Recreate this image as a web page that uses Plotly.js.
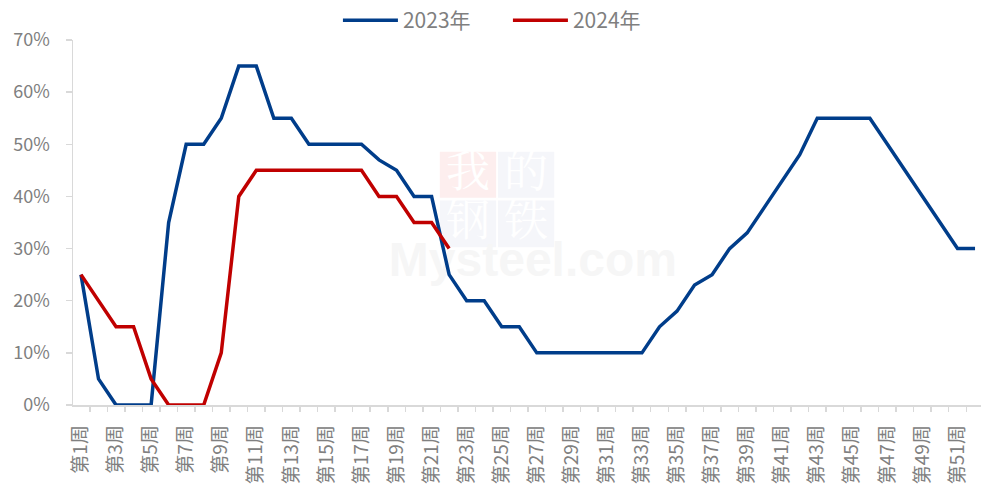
<!DOCTYPE html>
<html>
<head>
<meta charset="utf-8">
<script src="https://cdn.plot.ly/plotly-3.0.1.min.js"></script>
<style>html,body{margin:0;padding:0;background:#fff;}#chart{width:981px;height:491px;}</style>
</head>
<body>
<div id="chart"></div>
<script>
// Categories (weeks) and their positions on the axis
const weeks = ["第1周","第2周","第3周","第4周","第5周","第6周","第7周","第8周","第9周","第10周",
  "第11周","第12周","第13周","第14周","第15周","第16周","第17周","第18周","第19周","第20周",
  "第21周","第22周","第23周","第24周","第25周","第26周","第27周","第28周","第29周","第30周",
  "第31周","第32周","第33周","第34周","第35周","第36周","第37周","第38周","第39周","第40周",
  "第41周","第42周","第43周","第44周","第45周","第46周","第47周","第48周","第49周","第50周",
  "第51周","第52周"];
const weekNo = weeks.map((w, i) => i + 1);

// Series values (fraction)
const y2023 = [0.25,0.05,0,0,0,0.35,0.50,0.50,0.55,0.65,
  0.65,0.55,0.55,0.50,0.50,0.50,0.50,0.47,0.45,0.40,
  0.40,0.25,0.20,0.20,0.15,0.15,0.10,0.10,0.10,0.10,
  0.10,0.10,0.10,0.15,0.18,0.23,0.25,0.30,0.33,0.38,
  0.43,0.48,0.55,0.55,0.55,0.55,0.50,0.45,0.40,0.35,
  0.30,0.30];
const y2024 = [0.25,0.20,0.15,0.15,0.05,0,0,0,0.10,0.40,
  0.45,0.45,0.45,0.45,0.45,0.45,0.45,0.40,0.40,0.35,
  0.35,0.30];

const seriesNames = ["2023年","2024年"];
const tickIdx = weekNo.filter(n => n % 2 === 1);
const tickLabels = tickIdx.map(n => weeks[n - 1]);
const yTicks = [0,0.1,0.2,0.3,0.4,0.5,0.6,0.7];
const yTickText = ["0%","10%","20%","30%","40%","50%","60%","70%"];

const FONT = '"Noto Sans CJK SC", "Noto Sans", sans-serif';

const traces = [
  {x: weekNo, y: y2023, name: seriesNames[0], type: 'scatter', mode: 'lines',
   line: {color: '#003D8A', width: 3.5}},
  {x: weekNo.slice(0, y2024.length), y: y2024, name: seriesNames[1], type: 'scatter', mode: 'lines',
   line: {color: '#C00000', width: 3.5}}
];

const wmBox = (x0, x1, y0, y1, fill, txt) => ({
  type: 'rect', xref: 'paper', yref: 'paper', x0, x1, y0, y1, layer: 'below',
  fillcolor: fill, line: {width: 0},
  label: {text: txt, font: {size: 44, color: '#ffffff', family: '"Noto Serif CJK SC","Noto Sans CJK SC",serif'},
          textposition: 'middle center'}
});

const layout = {
  width: 981, height: 491,
  margin: {l: 73, r: 0, t: 39, b: 86},
  paper_bgcolor: '#ffffff', plot_bgcolor: '#ffffff',
  font: {family: FONT, color: '#7f7f7f'},
  showlegend: true,
  legend: {orientation: 'h', x: 0.479, xanchor: 'center', y: 1.052, yanchor: 'middle',
           font: {size: 21, color: '#7f7f7f', family: FONT}, itemwidth: 55, entrywidth: 100,
           bgcolor: 'rgba(0,0,0,0)'},
  xaxis: {
    range: [0.544, 52.34], showgrid: false, zeroline: false,
    showline: true, linecolor: '#d9d9d9', linewidth: 1.5,
    tickmode: 'array', tickvals: tickIdx, ticktext: tickLabels,
    ticks: '', tickangle: -90, ticklabelstandoff: 11,
    tickfont: {size: 19, color: '#808080', family: FONT},
    minor: {ticks: 'outside', ticklen: 5, tickcolor: '#d9d9d9', tickwidth: 1.5, tick0: 0.5, dtick: 1, showgrid: false}
  },
  yaxis: {
    range: [0, 0.7], showgrid: false, zeroline: false,
    showline: true, linecolor: '#d9d9d9', linewidth: 1.5,
    tickmode: 'array', tickvals: yTicks, ticktext: yTickText,
    ticks: 'outside', ticklen: 6, tickcolor: '#d9d9d9', tickwidth: 1.5,
    ticklabelstandoff: 12,
    tickfont: {size: 18, color: '#808080', family: FONT}
  },
  shapes: [
    wmBox(0.404, 0.466, 0.568, 0.694, '#fdeeee', '我'),
    wmBox(0.468, 0.530, 0.568, 0.694, '#f5f6fa', '的'),
    wmBox(0.404, 0.466, 0.432, 0.560, '#f5f6fa', '钢'),
    wmBox(0.468, 0.530, 0.432, 0.560, '#f5f6fa', '铁'),
    {type: 'rect', xref: 'paper', yref: 'paper', x0: 0.362, x1: 0.651, y0: 0.342, y1: 0.484, layer: 'below',
     fillcolor: 'rgba(0,0,0,0)', line: {width: 0},
     label: {text: '<b>Mysteel.com</b>', font: {size: 48, color: '#f6f6f6', family: '"Liberation Sans", Arial, sans-serif'},
             textposition: 'middle center'}}
  ]
};

Plotly.newPlot('chart', traces, layout, {displayModeBar: false, staticPlot: true});
</script>
</body>
</html>
